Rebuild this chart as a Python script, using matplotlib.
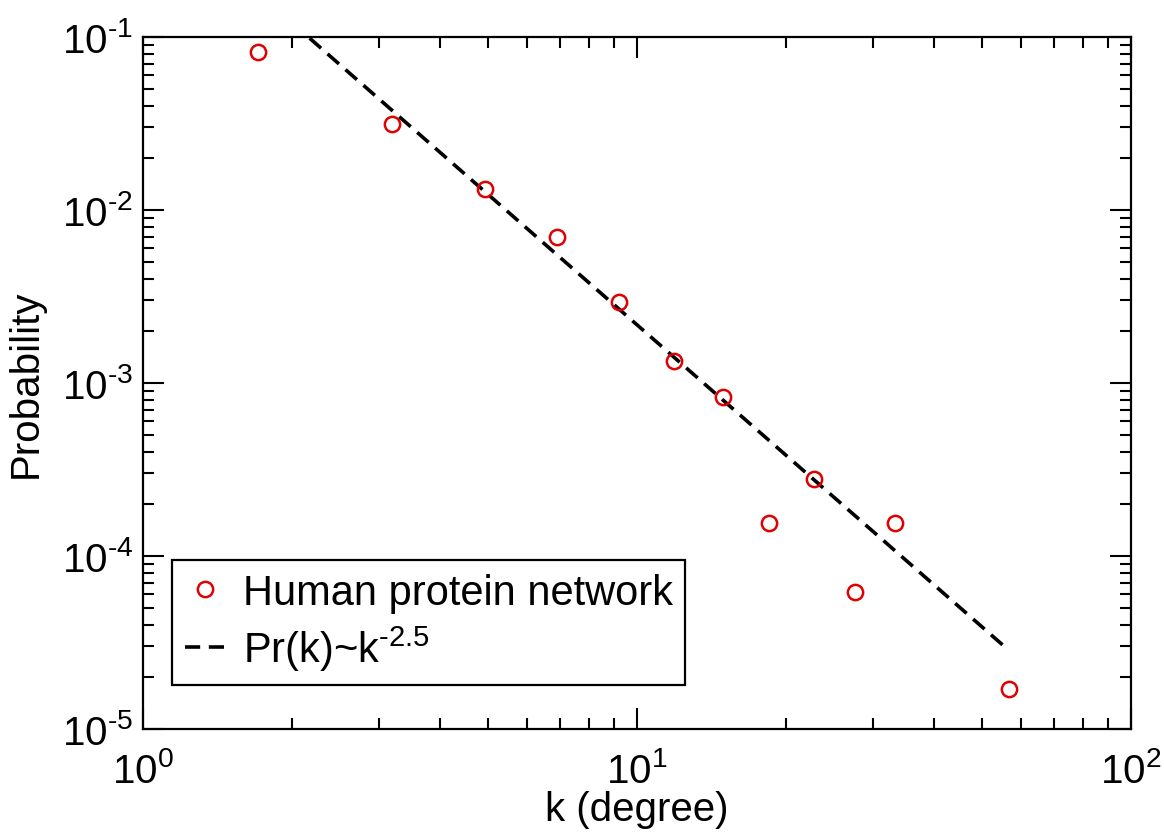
import numpy as np
import matplotlib
matplotlib.use("Agg")
import matplotlib.pyplot as plt
from matplotlib.ticker import LogLocator, NullFormatter, FuncFormatter

# ---- data ----
degree_k = [1.71, 3.19, 4.92, 6.89, 9.20, 11.88, 14.93, 18.5, 22.8, 27.6, 33.3, 56.6]
probability = [0.0819, 0.0314, 0.0132, 0.00698, 0.00294, 0.00134, 0.00083,
               0.000155, 0.000279, 6.19e-5, 1.55e-4, 1.70e-5]
fit_coeff = 0.686
fit_exponent = -2.5
fit_k_range = [2.0, 56.6]

series_label = "Human protein network"
fit_label = r"Pr(k)~k$^{\text{-2.5}}$"
x_label = "k (degree)"
y_label = "Probability"

plt.rcParams['font.family'] = ['Liberation Sans', 'DejaVu Sans']
plt.rcParams['mathtext.fontset'] = 'custom'
plt.rcParams['mathtext.rm'] = 'Liberation Sans'
plt.rcParams['mathtext.it'] = 'Liberation Sans'
plt.rcParams['mathtext.bf'] = 'Liberation Sans'
plt.rcParams['axes.unicode_minus'] = False


def pow_fmt(v, pos):
    e = int(round(np.log10(v)))
    return r"$10^{\text{%d}}$" % e


fig = plt.figure(figsize=(11.64, 8.37), dpi=100)
ax = fig.add_axes([143/1164, 1 - 730/837, (1131-143)/1164, (730-38)/837])

fk = np.logspace(np.log10(fit_k_range[0]), np.log10(fit_k_range[1]), 200)
ax.plot(fk, fit_coeff * fk ** fit_exponent, color='black', lw=2.6,
        dashes=(4.2, 2.4), label=fit_label, zorder=2)
ax.plot(degree_k, probability, linestyle='none', marker='o', markersize=11,
        markerfacecolor='none', markeredgecolor='#e00000', markeredgewidth=1.8,
        label=series_label, zorder=3)

ax.set_xscale('log')
ax.set_yscale('log')
ax.set_xlim(1, 100)
ax.set_ylim(1e-5, 1e-1)

ax.xaxis.set_major_locator(LogLocator(base=10, numticks=10))
ax.yaxis.set_major_locator(LogLocator(base=10, numticks=10))
ax.xaxis.set_minor_locator(LogLocator(base=10, subs=np.arange(2, 10), numticks=20))
ax.yaxis.set_minor_locator(LogLocator(base=10, subs=np.arange(2, 10), numticks=20))
ax.xaxis.set_major_formatter(FuncFormatter(pow_fmt))
ax.yaxis.set_major_formatter(FuncFormatter(pow_fmt))
ax.xaxis.set_minor_formatter(NullFormatter())
ax.yaxis.set_minor_formatter(NullFormatter())

ax.tick_params(which='both', direction='in', top=True, right=True, width=1.5)
ax.tick_params(which='major', length=15)
ax.tick_params(which='minor', length=8)
ax.tick_params(axis='x', which='major', labelsize=29, pad=16)
ax.tick_params(axis='y', which='major', labelsize=29, pad=7)
for s in ax.spines.values():
    s.set_linewidth(1.6)

ax.set_xlabel(x_label, fontsize=29, labelpad=0)
ax.set_ylabel(y_label, fontsize=29, labelpad=12)

handles, labels = ax.get_legend_handles_labels()
leg = ax.legend(handles[::-1], labels[::-1], loc='lower left',
                bbox_to_anchor=((172-143)/988, (730-686)/692),
                borderaxespad=0, fontsize=30, frameon=True, fancybox=False,
                edgecolor='black', framealpha=1, handlelength=1.0,
                handletextpad=0.4, labelspacing=0.25, borderpad=0.3)
leg.get_frame().set_linewidth(1.6)

fig.savefig("out.png", dpi=100)
